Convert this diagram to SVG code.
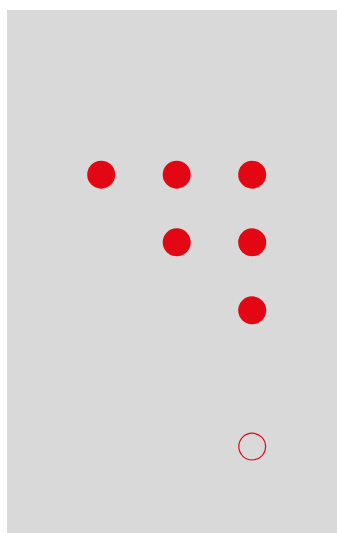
<svg xmlns="http://www.w3.org/2000/svg" width="337" height="533" viewBox="0 0 337 533">
<style>
.dot{fill:#E30613}
.ring{fill:none;stroke:#E30613;stroke-width:1.2}
</style>
<rect x="7" y="10" width="330" height="523" fill="#D9D9D9"/>
<g id="d1"><circle class="dot" cx="101.2" cy="174.7" r="14"/></g>
<g id="d2"><circle class="dot" cx="176.7" cy="174.7" r="14"/></g>
<g id="d3"><circle class="dot" cx="252.2" cy="174.7" r="14"/></g>
<g id="d4"><circle class="dot" cx="176.7" cy="242.3" r="14"/></g>
<g id="d5"><circle class="dot" cx="252.2" cy="242.3" r="14"/></g>
<g id="d6"><circle class="dot" cx="252.2" cy="310.3" r="14"/></g>
<g id="d7"><circle class="ring" cx="252.2" cy="446.6" r="13.4"/></g>
<g id="connectors"></g>
</svg>
